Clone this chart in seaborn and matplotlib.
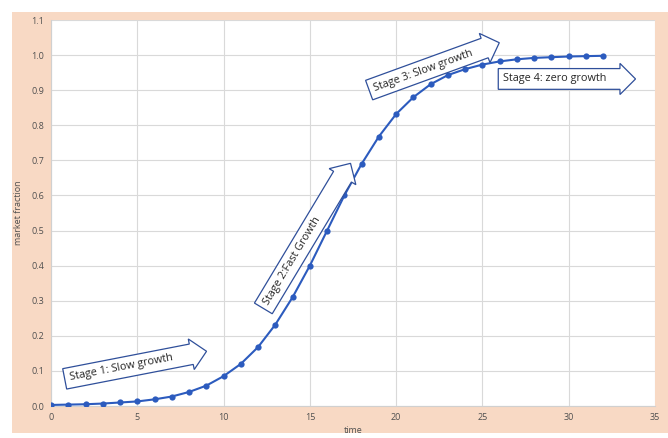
import matplotlib
matplotlib.use('Agg')
import matplotlib.pyplot as plt
from matplotlib.patches import Rectangle
import numpy as np
import pandas as pd
import seaborn as sns

# data
time = list(range(0, 33))
fraction = [0.003, 0.004, 0.005, 0.007, 0.010, 0.013, 0.019, 0.027, 0.040,
            0.058, 0.085, 0.120, 0.168, 0.232, 0.310, 0.400, 0.500, 0.600,
            0.690, 0.768, 0.832, 0.880, 0.917, 0.943, 0.960, 0.973, 0.982,
            0.988, 0.992, 0.994, 0.996, 0.997, 0.998]
stage_labels = ['Stage 1: Slow growth', 'Stage 2:Fast Growth',
                'Stage 3: Slow growth', 'Stage 4: zero growth']

df = pd.DataFrame({'time': time, 'market fraction': fraction})

sns.set_style('white')
plt.rcParams['font.family'] = ['Open Sans', 'DejaVu Sans']

fig = plt.figure(figsize=(6.68, 4.38), dpi=100)
fig.patch.set_facecolor('white')
# peach frame behind the chart
frame = Rectangle((12 / 668, 5 / 438), 1 - 12 / 668, 1 - 17 / 438,
                  transform=fig.transFigure, facecolor='#F8D9C4',
                  edgecolor='none', zorder=-5)
fig.add_artist(frame)

ax = fig.add_axes([51 / 668, 1 - 406 / 438, 604 / 668, 386 / 438])
ax.set_facecolor('white')

blue = '#2C5BBE'
sns.lineplot(data=df, x='time', y='market fraction', ax=ax, color=blue,
             marker='o', markersize=4.5, markeredgewidth=0, linewidth=1.5,
             zorder=3)

ax.set_xlim(0, 35)
ax.set_ylim(0, 1.1)
ax.set_xticks(np.arange(0, 36, 5))
ax.set_yticks(np.arange(0, 1.11, 0.1))
ax.set_yticklabels([f'{v:.1f}' for v in np.arange(0, 1.11, 0.1)])
ax.grid(True, color='#D9D9D9', linewidth=0.8)
ax.set_axisbelow(True)
for side in ['top', 'right']:
    ax.spines[side].set_visible(False)
for side in ['left', 'bottom']:
    ax.spines[side].set_color('#D0D0D0')
ax.tick_params(labelsize=6.5, colors='#505050', length=0, pad=5)
ax.set_xlabel('time', fontsize=6.5, color='#505050', labelpad=3)
ax.set_ylabel('market fraction', fontsize=6.5, color='#505050', labelpad=6)

arrow_box = dict(boxstyle='rarrow,pad=0.45', fc='white', ec='#2F4F9A', lw=0.9)

# block arrows with the stage names, anchored at their tail
ax.text(1.07, 0.08, stage_labels[0] + '        ', rotation=11,
        rotation_mode='anchor', ha='left', va='center', fontsize=7.8,
        bbox=arrow_box, zorder=4)
ax.text(12.45, 0.29, stage_labels[1] + '                  ', rotation=59,
        rotation_mode='anchor', ha='left', va='center', fontsize=7.8,
        bbox=arrow_box, zorder=4)
ax.text(18.7, 0.905, stage_labels[2] + '      ', rotation=20,
        rotation_mode='anchor', ha='left', va='center', fontsize=7.8,
        bbox=arrow_box, zorder=4)
ax.text(26.2, 0.932, stage_labels[3] + '      ', rotation=0,
        rotation_mode='anchor', ha='left', va='center', fontsize=7.8,
        bbox=arrow_box, zorder=4)

fig.savefig('out.png', dpi=100)
